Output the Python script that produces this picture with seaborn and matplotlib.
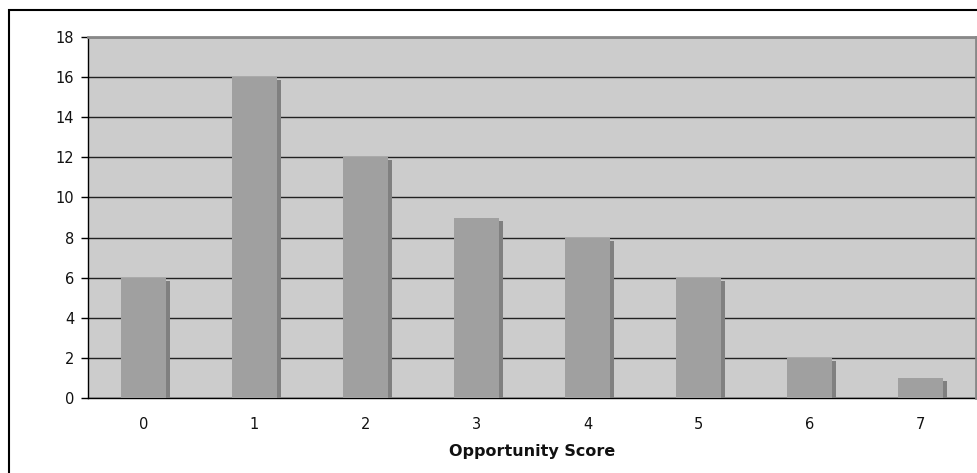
import matplotlib
matplotlib.use("Agg")
import matplotlib.pyplot as plt
import matplotlib.patheffects as pe
from matplotlib.patches import Rectangle
import seaborn as sns
import pandas as pd
import numpy as np

categories = ["0", "1", "2", "3", "4", "5", "6", "7"]
values = [6, 16, 12, 9, 8, 6, 2, 1]
y_ticks = [0, 2, 4, 6, 8, 10, 12, 14, 16, 18]
x_label = "Opportunity Score"

df = pd.DataFrame({"score": categories, "count": values})

sns.set_style("white")
plt.rcParams["font.family"] = ["DejaVu Sans"]

fig = plt.figure(figsize=(9.77, 4.73), dpi=100)
fig.patch.set_facecolor("white")
ax = fig.add_axes([88 / 977, 1 - 398 / 473, (976 - 88) / 977, (398 - 37) / 473])
ax.set_facecolor("#CCCCCC")

sns.barplot(data=df, x="score", y="count", color="#A0A0A0", saturation=1,
            width=0.41, ax=ax, zorder=3)

for p in ax.patches:
    p.set_edgecolor("none")
    p.set_linewidth(0)
    p.set_path_effects([pe.SimplePatchShadow(offset=(3.0, -2.2), shadow_rgbFace="#808080", alpha=1.0),
                        pe.Normal()])

ax.set_ylim(0, 18)
ax.set_xlim(-0.5, len(categories) - 0.5)
ax.set_yticks(y_ticks)
ax.yaxis.grid(True, color="#222222", linewidth=1.0, zorder=1)
ax.set_axisbelow(True)

ax.set_xticks(np.arange(len(categories)))
ax.set_xticklabels(categories)
ax.set_xticks(np.arange(-0.5, len(categories) + 0.5, 1), minor=True)
ax.tick_params(axis="x", which="major", length=0, pad=14, labelsize=10.5, labelcolor="#111111")
ax.tick_params(axis="x", which="minor", length=5, width=1, color="black", direction="out")
ax.tick_params(axis="y", length=5, width=1, color="black", direction="out", pad=5,
               labelsize=10.5, labelcolor="#111111", left=True)

for s in ["left", "bottom"]:
    ax.spines[s].set_color("black")
    ax.spines[s].set_linewidth(1.0)
for s in ["top", "right"]:
    ax.spines[s].set_color("#888888")
    ax.spines[s].set_linewidth(2.0)
    ax.spines[s].set_zorder(4)

ax.set_xlabel(x_label, fontsize=11.5, fontweight="bold", color="#111111", labelpad=8)
ax.set_ylabel("")

border = Rectangle((9 / 977, -0.1), 1.2, 1 - 10 / 473 + 0.1, transform=fig.transFigure,
                   fill=False, edgecolor="black", linewidth=1.5, zorder=-1)
fig.add_artist(border)

fig.savefig("out.png", dpi=100)
